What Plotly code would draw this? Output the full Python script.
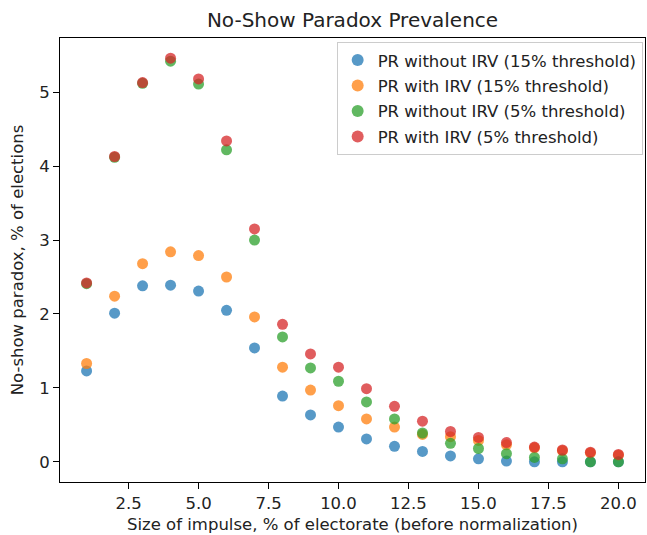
import plotly.graph_objects as go

x_vals = list(range(1, 21))

pr_no_irv_15 = [1.23, 2.01, 2.38, 2.39, 2.31, 2.05, 1.54, 0.89, 0.635, 0.47,
                0.31, 0.21, 0.14, 0.08, 0.04, 0.01, 0.0, 0.0, 0.0, 0.0]
pr_irv_15 = [1.33, 2.24, 2.68, 2.84, 2.79, 2.50, 1.96, 1.28, 0.97, 0.76,
             0.58, 0.47, 0.37, 0.34, 0.29, 0.23, 0.19, 0.15, 0.12, 0.09]
pr_no_irv_5 = [2.41, 4.12, 5.12, 5.42, 5.11, 4.22, 3.00, 1.69, 1.27, 1.09,
               0.81, 0.58, 0.39, 0.25, 0.18, 0.11, 0.06, 0.04, 0.0, 0.0]
pr_irv_5 = [2.42, 4.13, 5.13, 5.46, 5.18, 4.34, 3.15, 1.86, 1.46, 1.28,
            0.99, 0.75, 0.55, 0.41, 0.33, 0.26, 0.20, 0.16, 0.13, 0.10]

series_names = ["PR without IRV (15% threshold)", "PR with IRV (15% threshold)",
                "PR without IRV (5% threshold)", "PR with IRV (5% threshold)"]
series_vals = [pr_no_irv_15, pr_irv_15, pr_no_irv_5, pr_irv_5]
colors = ["#1f77b4", "#ff7f0e", "#2ca02c", "#d62728"]

x_ticks = [2.5, 5.0, 7.5, 10.0, 12.5, 15.0, 17.5, 20.0]
x_tick_labels = ["2.5", "5.0", "7.5", "10.0", "12.5", "15.0", "17.5", "20.0"]
y_ticks = [0, 1, 2, 3, 4, 5]

font_family = "DejaVu Sans"
fs = 16.5

fig = go.Figure()
for i, (name, vals, c) in enumerate(zip(series_names, series_vals, colors)):
    fig.add_trace(go.Scatter(
        x=x_vals, y=vals, mode="markers", name=name,
        legendgroup=f"g{i}",
        marker=dict(color=c, size=11, opacity=0.75, line=dict(width=0)),
    ))

ymin = min(min(v) for v in series_vals)
ymax = max(max(v) for v in series_vals)
ypad = (ymax - ymin) * 0.05
xpad = (max(x_vals) - min(x_vals)) * 0.05

axis_common = dict(
    showline=True, linecolor="black", linewidth=1, mirror=True,
    ticks="outside", ticklen=6, tickwidth=1, tickcolor="black",
    showgrid=False, zeroline=False,
    tickfont=dict(family=font_family, size=fs, color="#222"),
)

plot_h = 535 - 38 - 53

fig.update_layout(
    width=647, height=535,
    margin=dict(l=60, r=2, t=38, b=53),
    paper_bgcolor="white", plot_bgcolor="white",
    font=dict(family=font_family, color="#222"),
    title=dict(text="No-Show Paradox Prevalence", x=0.5, xanchor="center",
               xref="paper", y=(535 - 20) / 535, yref="container", yanchor="middle",
               font=dict(size=20, family=font_family, color="#222")),
    xaxis=dict(range=[min(x_vals) - xpad, max(x_vals) + xpad],
               tickvals=x_ticks, ticktext=x_tick_labels,
               title=dict(text="Size of impulse, % of electorate (before normalization)",
                          font=dict(size=fs, family=font_family), standoff=6),
               **axis_common),
    yaxis=dict(range=[ymin - ypad, ymax + ypad], tickvals=y_ticks,
               title=dict(text="No-show paradox, % of elections",
                          font=dict(size=fs, family=font_family), standoff=11),
               **axis_common),
    legend=dict(x=0.996, xanchor="right", y=0.98 + 5 / plot_h, yanchor="top",
                bordercolor="#cccccc", borderwidth=1, bgcolor="rgba(255,255,255,0.8)",
                font=dict(size=fs, family=font_family, color="#222"),
                tracegroupgap=1, itemsizing="constant"),
)

fig.write_html("out.html")
